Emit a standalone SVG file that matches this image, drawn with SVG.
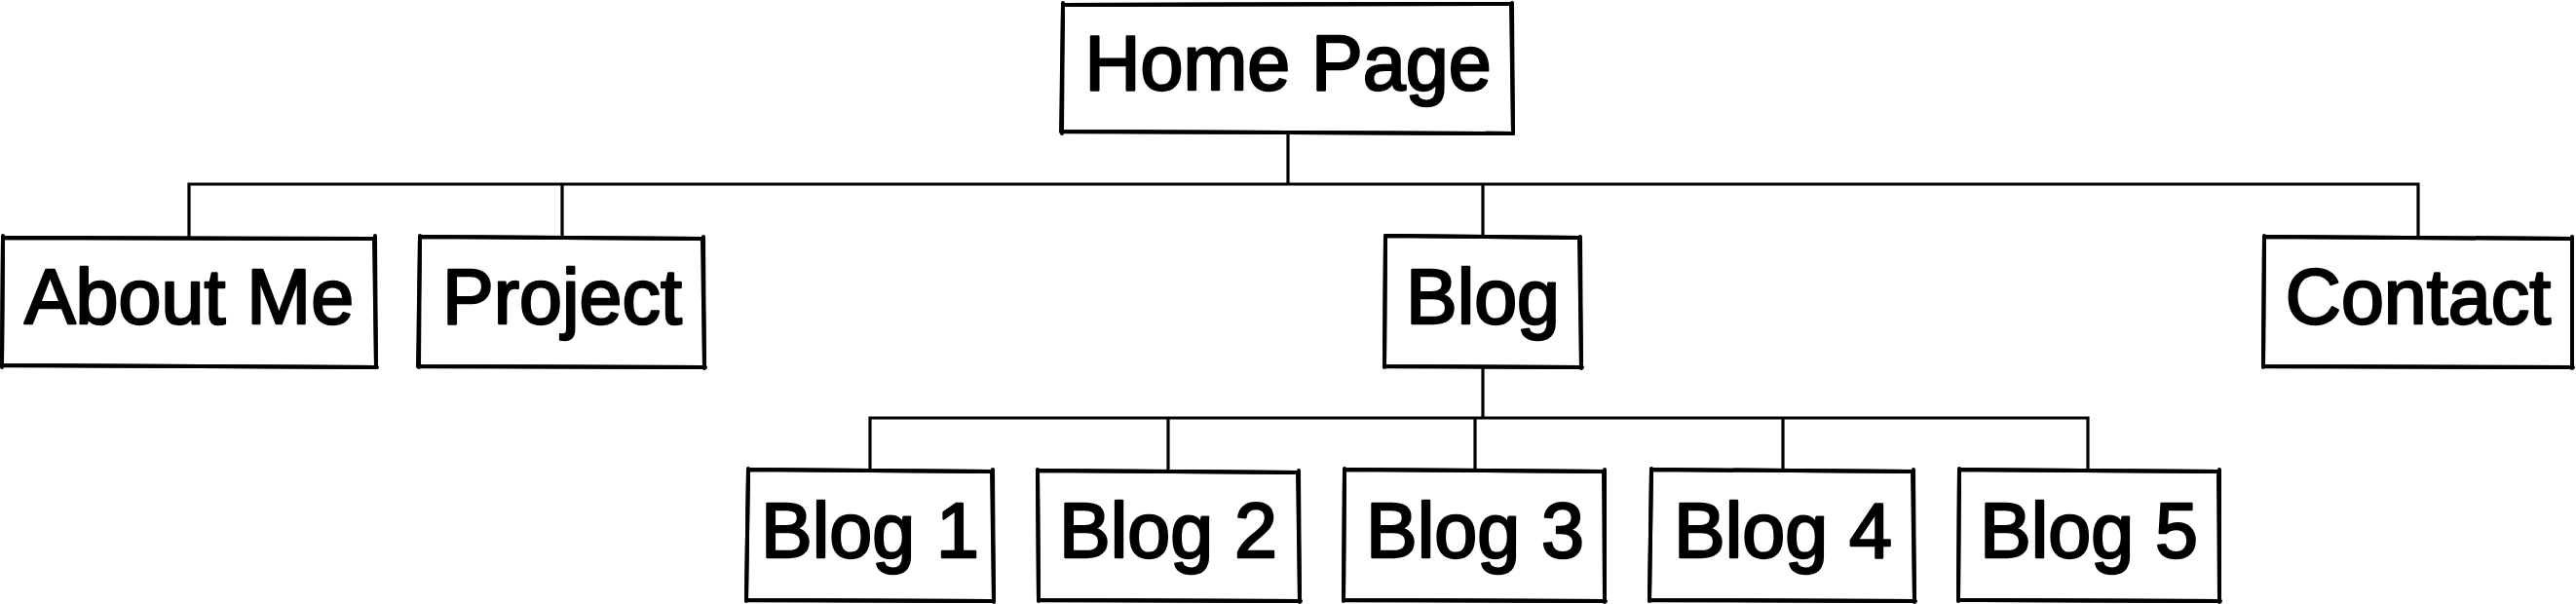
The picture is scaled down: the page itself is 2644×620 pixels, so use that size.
<svg xmlns="http://www.w3.org/2000/svg" width="2644" height="620" viewBox="0 0 2644 620">
<style>
.box{fill:#fff;stroke:#000;stroke-width:4;stroke-linecap:round;stroke-linejoin:round}
.edge{fill:none;stroke:#000;stroke-width:4;stroke-linecap:round}
.lbl{font-family:"Liberation Sans",Arial,sans-serif;font-size:79px;fill:#000;stroke:#000;stroke-width:2.4;stroke-linejoin:round;stroke-linecap:round;text-anchor:middle}
.conn{fill:none;stroke:#000;stroke-width:3.2}
</style>
<rect width="2644" height="620" fill="#fff"/>
<g id="connectors">
<path class="conn" d="M1322 137 V189"/>
<path class="conn" d="M194 243 V189 H2482 V243"/>
<path class="conn" d="M577 189 V243 M1522 189 V243"/>
<path class="conn" d="M1522 377 V429"/>
<path class="conn" d="M893 483 V429 H2143 V483"/>
<path class="conn" d="M1199 429 V483 M1514 429 V483 M1830 429 V483"/>
</g>
<g id="home">
<path class="box" d="M1091 5 L1551 4 L1553 137 L1089 135 Z"/>
<path class="edge" d="M1091 5 L1551 4 M1552 3 L1553 137 M1553 137 L1089 135 M1090 137 L1091 3"/>
<text class="lbl" x="1322" y="92">Home Page</text>
</g>
<g id="about">
<path class="box" d="M3 244 L384 245 L386 377 L2 375 Z"/>
<path class="edge" d="M3 244 L384 245 M385 242 L386 377 M387 377 L2 375 M2 377 L3 242"/>
<text class="lbl" x="194" y="332">About Me</text>
</g>
<g id="project">
<path class="box" d="M431 243 L721 245 L723 377 L429 376 Z"/>
<path class="edge" d="M431 243 L721 245 M722 243 L723 378 M724 377 L429 376 M430 377 L431 242"/>
<text class="lbl" x="577" y="332">Project</text>
</g>
<g id="blog">
<path class="box" d="M1422 242 L1621 244 L1623 377 L1421 376 Z"/>
<path class="edge" d="M1422 242 L1621 244 M1622 243 L1623 378 M1624 377 L1421 376 M1421 377 L1422 242"/>
<text class="lbl" x="1522" y="332">Blog</text>
</g>
<g id="contact">
<path class="box" d="M2324 243 L2640 245 L2640 377 L2323 376 Z"/>
<path class="edge" d="M2324 243 L2640 245 M2640 243 L2640 378 M2641 377 L2323 376 M2323 377 L2324 242"/>
<text class="lbl" x="2482" y="332">Contact</text>
</g>
<g id="blog1">
<path class="box" d="M768 482 L1018 484 L1020 617 L766 616 Z"/>
<path class="edge" d="M768 482 L1018 484 M1019 482 L1020 618 M1020 617 L766 616 M766 617 L768 481"/>
<text class="lbl" x="893" y="572">Blog 1</text>
</g>
<g id="blog2">
<path class="box" d="M1065 483 L1332 485 L1334 617 L1066 616 Z"/>
<path class="edge" d="M1065 483 L1332 485 M1333 483 L1334 618 M1335 617 L1066 616 M1066 617 L1065 482"/>
<text class="lbl" x="1199" y="572">Blog 2</text>
</g>
<g id="blog3">
<path class="box" d="M1380 482 L1646 484 L1647 617 L1379 616 Z"/>
<path class="edge" d="M1380 482 L1646 484 M1647 482 L1647 618 M1648 617 L1379 616 M1379 617 L1380 481"/>
<text class="lbl" x="1514" y="572">Blog 3</text>
</g>
<g id="blog4">
<path class="box" d="M1695 482 L1963 484 L1965 617 L1693 616 Z"/>
<path class="edge" d="M1695 482 L1963 484 M1964 482 L1965 618 M1966 617 L1693 616 M1693 617 L1695 481"/>
<text class="lbl" x="1830" y="572">Blog 4</text>
</g>
<g id="blog5">
<path class="box" d="M2011 482 L2277 484 L2278 617 L2010 616 Z"/>
<path class="edge" d="M2011 482 L2277 484 M2278 482 L2278 618 M2279 617 L2010 616 M2010 617 L2011 481"/>
<text class="lbl" x="2144" y="572">Blog 5</text>
</g>
</svg>
